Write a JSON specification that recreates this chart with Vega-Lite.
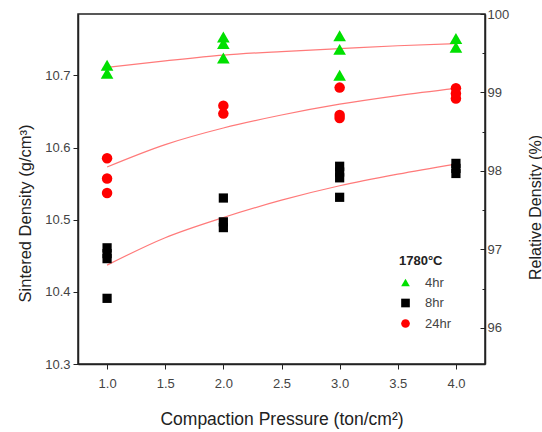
{
  "$schema": "https://vega.github.io/schema/vega-lite/v6.json",
  "width": 407,
  "height": 350,
  "autosize": "none",
  "padding": {"left": 78, "top": 14, "right": 57, "bottom": 68},
  "background": "white",
  "config": {
    "font": "Liberation Sans",
    "view": {"stroke": "#222", "strokeWidth": 1.5},
    "axis": {
      "grid": false,
      "domainColor": "#222",
      "domainWidth": 1.5,
      "tickColor": "#222",
      "tickWidth": 1,
      "labelFont": "Liberation Sans",
      "labelFontSize": 13,
      "labelColor": "#444",
      "titleFont": "Liberation Sans",
      "titleFontSize": 16,
      "titleFontWeight": "normal",
      "titleColor": "#222"
    },
    "legend": {
      "titleFont": "Liberation Sans",
      "labelFont": "Liberation Sans"
    }
  },
  "datasets": {
    "pts": [
      {"p": 1.0, "d": 10.714, "t": "4hr"},
      {"p": 1.0, "d": 10.703, "t": "4hr"},
      {"p": 2.0, "d": 10.753, "t": "4hr"},
      {"p": 2.0, "d": 10.744, "t": "4hr"},
      {"p": 2.0, "d": 10.724, "t": "4hr"},
      {"p": 3.0, "d": 10.755, "t": "4hr"},
      {"p": 3.0, "d": 10.736, "t": "4hr"},
      {"p": 3.0, "d": 10.700, "t": "4hr"},
      {"p": 4.0, "d": 10.751, "t": "4hr"},
      {"p": 4.0, "d": 10.739, "t": "4hr"},
      {"p": 1.0, "d": 10.461, "t": "8hr"},
      {"p": 1.0, "d": 10.453, "t": "8hr"},
      {"p": 1.0, "d": 10.446, "t": "8hr"},
      {"p": 1.0, "d": 10.391, "t": "8hr"},
      {"p": 2.0, "d": 10.530, "t": "8hr"},
      {"p": 2.0, "d": 10.497, "t": "8hr"},
      {"p": 2.0, "d": 10.489, "t": "8hr"},
      {"p": 3.0, "d": 10.574, "t": "8hr"},
      {"p": 3.0, "d": 10.566, "t": "8hr"},
      {"p": 3.0, "d": 10.558, "t": "8hr"},
      {"p": 3.0, "d": 10.531, "t": "8hr"},
      {"p": 4.0, "d": 10.578, "t": "8hr"},
      {"p": 4.0, "d": 10.571, "t": "8hr"},
      {"p": 4.0, "d": 10.564, "t": "8hr"},
      {"p": 1.0, "d": 10.585, "t": "24hr"},
      {"p": 1.0, "d": 10.557, "t": "24hr"},
      {"p": 1.0, "d": 10.537, "t": "24hr"},
      {"p": 2.0, "d": 10.658, "t": "24hr"},
      {"p": 2.0, "d": 10.647, "t": "24hr"},
      {"p": 3.0, "d": 10.683, "t": "24hr"},
      {"p": 3.0, "d": 10.645, "t": "24hr"},
      {"p": 3.0, "d": 10.641, "t": "24hr"},
      {"p": 4.0, "d": 10.682, "t": "24hr"},
      {"p": 4.0, "d": 10.675, "t": "24hr"},
      {"p": 4.0, "d": 10.668, "t": "24hr"}
    ],
    "fit": [
      {"p": 1.0, "d": 10.711, "t": "4hr"},
      {"p": 1.5, "d": 10.720, "t": "4hr"},
      {"p": 2.0, "d": 10.728, "t": "4hr"},
      {"p": 2.5, "d": 10.733, "t": "4hr"},
      {"p": 3.0, "d": 10.737, "t": "4hr"},
      {"p": 3.5, "d": 10.741, "t": "4hr"},
      {"p": 4.0, "d": 10.744, "t": "4hr"},
      {"p": 1.0, "d": 10.437, "t": "8hr"},
      {"p": 1.5, "d": 10.475, "t": "8hr"},
      {"p": 2.0, "d": 10.503, "t": "8hr"},
      {"p": 2.5, "d": 10.527, "t": "8hr"},
      {"p": 3.0, "d": 10.547, "t": "8hr"},
      {"p": 3.5, "d": 10.563, "t": "8hr"},
      {"p": 4.0, "d": 10.577, "t": "8hr"},
      {"p": 1.0, "d": 10.573, "t": "24hr"},
      {"p": 1.5, "d": 10.604, "t": "24hr"},
      {"p": 2.0, "d": 10.627, "t": "24hr"},
      {"p": 2.5, "d": 10.645, "t": "24hr"},
      {"p": 3.0, "d": 10.660, "t": "24hr"},
      {"p": 3.5, "d": 10.672, "t": "24hr"},
      {"p": 4.0, "d": 10.682, "t": "24hr"}
    ],
    "rel": [{"r": 96}, {"r": 100}]
  },
  "layer": [
    {
      "encoding": {
        "color": {
          "field": "t", "type": "nominal",
          "scale": {"domain": ["4hr", "8hr", "24hr"], "range": ["#00e000", "#000000", "#ff0000"]},
          "legend": {
            "title": "1780°C",
            "orient": "none",
            "legendX": 321,
            "legendY": 241,
            "titleFontSize": 13,
            "titleFontWeight": "bold",
            "titleColor": "#222",
            "titlePadding": 8,
            "labelFontSize": 13,
            "labelColor": "#444",
            "labelOffset": 13,
            "symbolSize": 75,
            "rowPadding": 6.5
          }
        },
        "shape": {
          "field": "t", "type": "nominal",
          "scale": {"domain": ["4hr", "8hr", "24hr"], "range": ["triangle-up", "square", "circle"]},
          "legend": {
            "title": "1780°C",
            "orient": "none",
            "legendX": 321,
            "legendY": 241,
            "titleFontSize": 13,
            "titleFontWeight": "bold",
            "titleColor": "#222",
            "titlePadding": 8,
            "labelFontSize": 13,
            "labelColor": "#444",
            "labelOffset": 13,
            "symbolSize": 75,
            "rowPadding": 6.5
          }
        }
      },
      "layer": [
        {
          "data": {"name": "fit"},
          "mark": {"type": "line", "color": "#ff7a7a", "strokeWidth": 1.2, "interpolate": "monotone"},
          "encoding": {
            "x": {
              "field": "p", "type": "quantitative",
              "scale": {"domain": [0.75, 4.25], "nice": false, "zero": false},
              "axis": {
                "title": "Compaction Pressure (ton/cm²)",
                "titleFontSize": 17.5,
                "values": [1.0, 1.25, 1.5, 1.75, 2.0, 2.25, 2.5, 2.75, 3.0, 3.25, 3.5, 3.75, 4.0],
                "labelExpr": "abs(datum.value*2 - round(datum.value*2)) < 0.01 ? format(datum.value, '.1f') : ''",
                "tickSize": {"condition": {"test": "abs(datum.value*2 - round(datum.value*2)) < 0.01", "value": 5}, "value": 3},
                "labelPadding": 8,
                "titleY": 55,
                "titleBaseline": "middle"
              }
            },
            "y": {
              "field": "d", "type": "quantitative",
              "scale": {"domain": [10.3, 10.785], "nice": false, "zero": false},
              "axis": {
                "title": "Sintered Density (g/cm³)",
                "titleFontSize": 16.5,
                "values": [10.3, 10.35, 10.4, 10.45, 10.5, 10.55, 10.6, 10.65, 10.7, 10.75],
                "labelExpr": "abs(datum.value*10 - round(datum.value*10)) < 0.01 ? format(datum.value, '.1f') : ''",
                "tickSize": {"condition": {"test": "abs(datum.value*10 - round(datum.value*10)) < 0.01", "value": 5}, "value": 3},
                "labelPadding": 3,
                "titleX": -53,
                "titleY": 199,
                "titleBaseline": "middle",
                "titleAlign": "center",
                "titleAngle": -90
              }
            },
            "detail": {"field": "t"},
            "color": {"value": "#ff7a7a"},
            "shape": null
          }
        },
        {
          "data": {"name": "pts"},
          "transform": [{"filter": "datum.t == '4hr'"}],
          "mark": {"type": "point", "filled": true, "opacity": 1, "size": 160},
          "encoding": {
            "x": {"field": "p", "type": "quantitative"},
            "y": {"field": "d", "type": "quantitative"}
          }
        },
        {
          "data": {"name": "pts"},
          "transform": [{"filter": "datum.t == '8hr'"}],
          "mark": {"type": "point", "filled": true, "opacity": 1, "size": 85},
          "encoding": {
            "x": {"field": "p", "type": "quantitative"},
            "y": {"field": "d", "type": "quantitative"}
          }
        },
        {
          "data": {"name": "pts"},
          "transform": [{"filter": "datum.t == '24hr'"}],
          "mark": {"type": "point", "filled": true, "opacity": 1, "size": 110},
          "encoding": {
            "x": {"field": "p", "type": "quantitative"},
            "y": {"field": "d", "type": "quantitative"}
          }
        }
      ]
    },
    {
      "data": {"name": "rel"},
      "mark": {"type": "point", "opacity": 0},
      "encoding": {
        "y": {
          "field": "r", "type": "quantitative",
          "scale": {"domain": [95.54, 100], "nice": false, "zero": false},
          "axis": {
            "orient": "right",
            "title": "Relative Density (%)",
            "values": [96, 96.5, 97, 97.5, 98, 98.5, 99, 99.5, 100],
            "labelExpr": "abs(datum.value - round(datum.value)) < 0.01 ? format(datum.value, 'd') : ''",
            "tickSize": {"condition": {"test": "abs(datum.value - round(datum.value)) < 0.01", "value": -5}, "value": -3},
            "labelPadding": 7,
            "titleX": 50,
            "titleY": 193,
            "titleBaseline": "middle",
            "titleAlign": "center",
            "titleAngle": -90
          }
        }
      }
    }
  ],
  "resolve": {"scale": {"y": "independent"}}
}
